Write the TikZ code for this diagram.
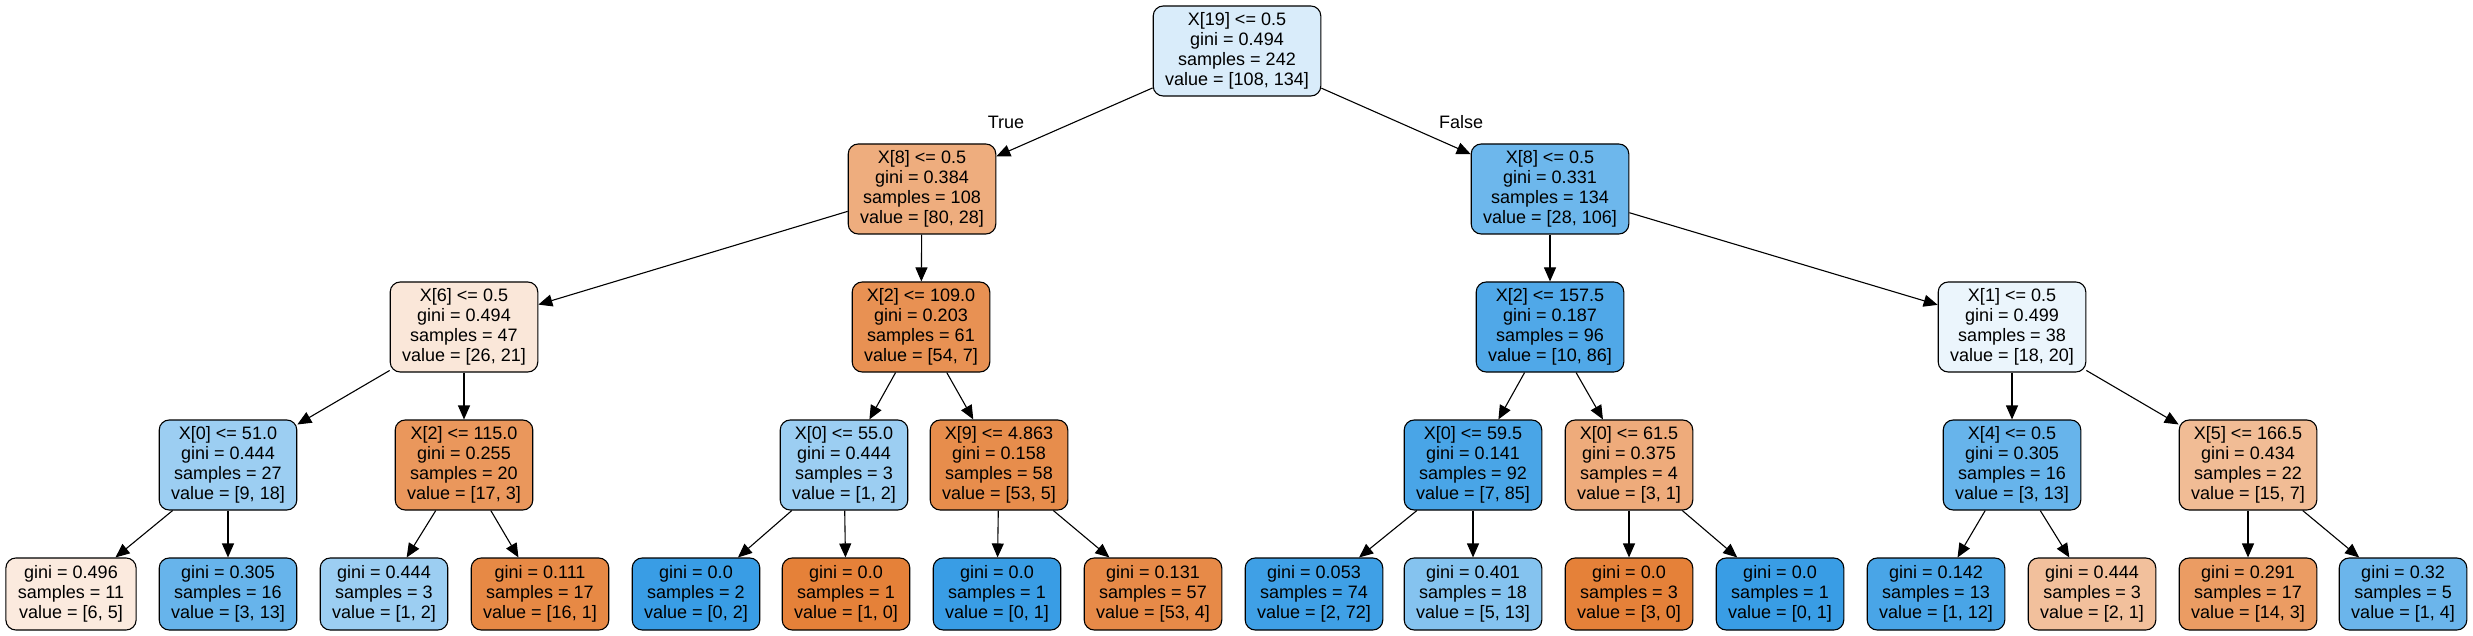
\documentclass[tikz,border=0pt]{standalone}
\usepackage{fontspec}
\setmainfont{Liberation Sans}
\usetikzlibrary{arrows.meta}
\definecolor{orangeclass}{RGB}{229,129,57}
\definecolor{blueclass}{RGB}{57,157,229}
\tikzset{
  split/.style={draw, rounded corners=5pt, align=center, inner xsep=6pt, inner ysep=0pt, minimum height=45pt, line width=0.55pt},
  leaf/.style={split, minimum height=36pt},
  edge/.style={->, line width=0.55pt},
}
\begin{document}
\begin{tikzpicture}[x=0.5pt,y=-0.5pt,>={Triangle[length=7pt,width=6pt]},font=\fontsize{9}{10}\selectfont,line join=round]
\useasboundingbox (0,0) rectangle (2473,636);
% splits
\node[split,fill=blueclass!19.4!white] (n0) at (1237,51) {X[19] <= 0.5\\gini = 0.494\\samples = 242\\value = [108, 134]};
\node[split,fill=orangeclass!65!white] (n1) at (922,189) {X[8] <= 0.5\\gini = 0.384\\samples = 108\\value = [80, 28]};
\node[split,fill=blueclass!73.6!white] (n16) at (1550,189) {X[8] <= 0.5\\gini = 0.331\\samples = 134\\value = [28, 106]};
\node[split,fill=orangeclass!19.2!white] (n2) at (464,327) {X[6] <= 0.5\\gini = 0.494\\samples = 47\\value = [26, 21]};
\node[split,fill=orangeclass!87!white] (n9) at (921,327) {X[2] <= 109.0\\gini = 0.203\\samples = 61\\value = [54, 7]};
\node[split,fill=blueclass!88.4!white] (n17) at (1550,327) {X[2] <= 157.5\\gini = 0.187\\samples = 96\\value = [10, 86]};
\node[split,fill=blueclass!10!white] (n24) at (2012,327) {X[1] <= 0.5\\gini = 0.499\\samples = 38\\value = [18, 20]};
\node[split,fill=blueclass!50!white] (n3) at (228,465) {X[0] <= 51.0\\gini = 0.444\\samples = 27\\value = [9, 18]};
\node[split,fill=orangeclass!82.4!white] (n6) at (464,465) {X[2] <= 115.0\\gini = 0.255\\samples = 20\\value = [17, 3]};
\node[split,fill=blueclass!50!white] (n10) at (844,465) {X[0] <= 55.0\\gini = 0.444\\samples = 3\\value = [1, 2]};
\node[split,fill=orangeclass!90.6!white] (n13) at (999,465) {X[9] <= 4.863\\gini = 0.158\\samples = 58\\value = [53, 5]};
\node[split,fill=blueclass!91.8!white] (n18) at (1473,465) {X[0] <= 59.5\\gini = 0.141\\samples = 92\\value = [7, 85]};
\node[split,fill=orangeclass!66.7!white] (n21) at (1629,465) {X[0] <= 61.5\\gini = 0.375\\samples = 4\\value = [3, 1]};
\node[split,fill=blueclass!76.9!white] (n25) at (2012,465) {X[4] <= 0.5\\gini = 0.305\\samples = 16\\value = [3, 13]};
\node[split,fill=orangeclass!53.3!white] (n28) at (2248,465) {X[5] <= 166.5\\gini = 0.434\\samples = 22\\value = [15, 7]};
% leaves
\node[leaf,fill=orangeclass!16.7!white] (n4) at (71,594) {gini = 0.496\\samples = 11\\value = [6, 5]};
\node[leaf,fill=blueclass!76.9!white] (n5) at (228,594) {gini = 0.305\\samples = 16\\value = [3, 13]};
\node[leaf,fill=blueclass!50!white] (n7) at (384,594) {gini = 0.444\\samples = 3\\value = [1, 2]};
\node[leaf,fill=orangeclass!93.75!white] (n8) at (540,594) {gini = 0.111\\samples = 17\\value = [16, 1]};
\node[leaf,fill=blueclass] (n11) at (696,594) {gini = 0.0\\samples = 2\\value = [0, 2]};
\node[leaf,fill=orangeclass] (n12) at (846,594) {gini = 0.0\\samples = 1\\value = [1, 0]};
\node[leaf,fill=blueclass] (n14) at (997,594) {gini = 0.0\\samples = 1\\value = [0, 1]};
\node[leaf,fill=orangeclass!92.5!white] (n15) at (1153,594) {gini = 0.131\\samples = 57\\value = [53, 4]};
\node[leaf,fill=blueclass!97.2!white] (n19) at (1314,594) {gini = 0.053\\samples = 74\\value = [2, 72]};
\node[leaf,fill=blueclass!61.5!white] (n20) at (1473,594) {gini = 0.401\\samples = 18\\value = [5, 13]};
\node[leaf,fill=orangeclass] (n22) at (1629,594) {gini = 0.0\\samples = 3\\value = [3, 0]};
\node[leaf,fill=blueclass] (n23) at (1780,594) {gini = 0.0\\samples = 1\\value = [0, 1]};
\node[leaf,fill=blueclass!91.7!white] (n26) at (1936,594) {gini = 0.142\\samples = 13\\value = [1, 12]};
\node[leaf,fill=orangeclass!50!white] (n27) at (2092,594) {gini = 0.444\\samples = 3\\value = [2, 1]};
\node[leaf,fill=orangeclass!78.6!white] (n29) at (2248,594) {gini = 0.291\\samples = 17\\value = [14, 3]};
\node[leaf,fill=blueclass!75!white] (n30) at (2403,594) {gini = 0.32\\samples = 5\\value = [1, 4]};
% edge labels
\node (ltrue) at (1006,122) {True};
\node (lfalse) at (1461,122) {False};
\foreach \a/\b in {n0/n1,n0/n16,n1/n2,n1/n9,n2/n3,n2/n6,n3/n4,n3/n5,n6/n7,n6/n8,
  n9/n10,n9/n13,n10/n11,n10/n12,n13/n14,n13/n15,n16/n17,n16/n24,n17/n18,n17/n21,
  n18/n19,n18/n20,n21/n22,n21/n23,n24/n25,n24/n28,n25/n26,n25/n27,n28/n29,n28/n30}
  \draw[edge] (\a) -- (\b);
\end{tikzpicture}
\end{document}
